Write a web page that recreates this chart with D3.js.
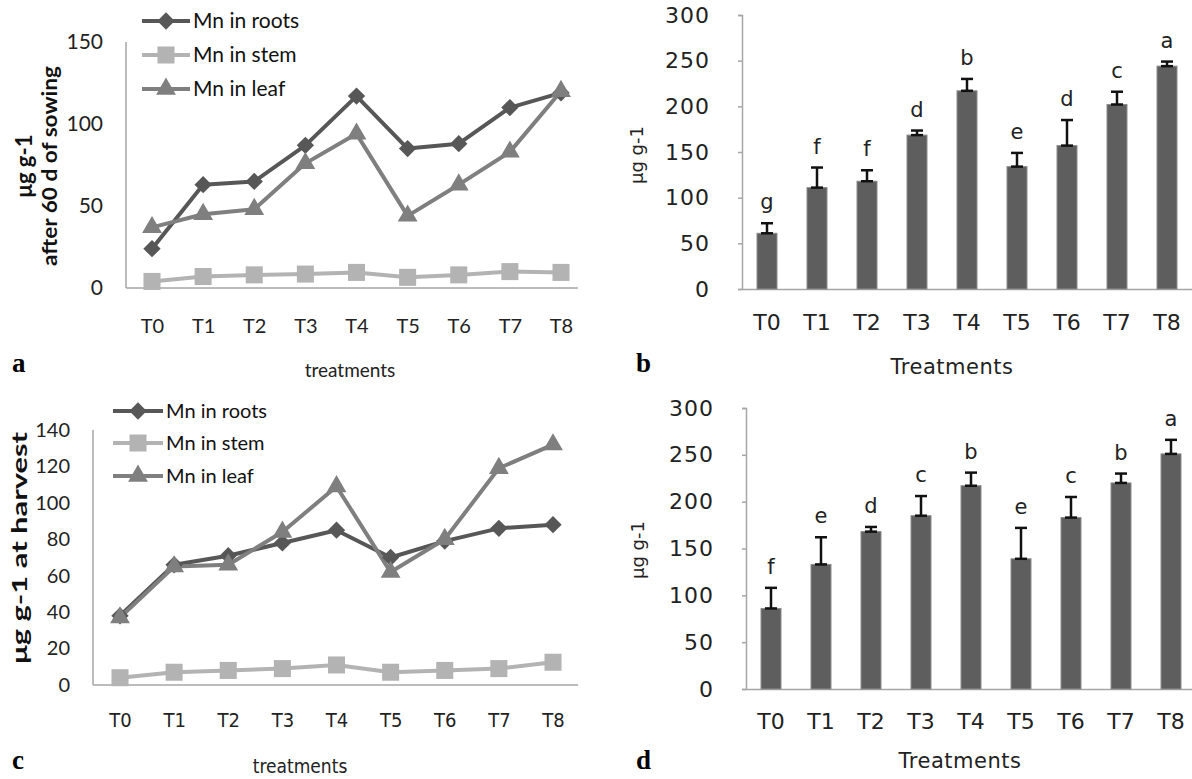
<!DOCTYPE html>
<html>
<head>
<meta charset="utf-8">
<script src="https://cdn.jsdelivr.net/npm/d3@7"></script>
<style>
  html, body { margin: 0; padding: 0; background: #fff; }
  svg { display: block; }
</style>
</head>
<body>
<svg id="chart" width="1192" height="779"></svg>
<script>
// ---------------- DATA ----------------
const treatments = ["T0", "T1", "T2", "T3", "T4", "T5", "T6", "T7", "T8"];
const seriesNames = ["Mn in roots", "Mn in stem", "Mn in leaf"];

// Panel a: after 60 d of sowing
const rootsA = [24, 63, 65, 87, 117, 85, 88, 110, 119];
const stemA  = [4, 7, 8, 8.5, 9.5, 6.5, 8, 10, 9.5];
const leafA  = [37, 45, 48, 76, 94, 44, 63, 83, 120];
const yTicksA = [0, 50, 100, 150];

// Panel c: at harvest
const rootsC = [38, 66, 71, 78, 85, 70, 79, 86, 88];
const stemC  = [4, 7, 8, 9, 11, 7, 8, 9, 12.5];
const leafC  = [37, 65, 66, 84, 109, 62, 80, 119, 132];
const yTicksC = [0, 20, 40, 60, 80, 100, 120, 140];

// Panel b: bars with error bars and letters
const meansB = [61, 111, 118, 168.5, 217, 134, 157, 202, 244];
const errB   = [11, 22, 12, 5, 13, 15, 28, 14, 5];
const lettersB = ["g", "f", "f", "d", "b", "e", "d", "c", "a"];

// Panel d
const meansD = [86, 133, 168, 185, 217, 139, 183, 220, 251];
const errD   = [22, 29, 5, 21, 14, 33, 22, 10, 15];
const lettersD = ["f", "e", "d", "c", "b", "e", "c", "b", "a"];

const yTicksBar = [0, 50, 100, 150, 200, 250, 300];

// ---------------- STYLE ----------------
const colors = ["#575757", "#b3b3b3", "#7f7f7f"];
const lineFont = "Lato, 'Open Sans', sans-serif";
const barFont = "'DejaVu Sans', Verdana, sans-serif";
const narrowFont = "'Liberation Sans Narrow', 'DejaVu Sans Condensed', Lato, sans-serif";
const axisGrey = "#a6a6a6";

const svg = d3.select("#chart");

function marker(i) {
  if (i === 0) return d3.symbol(d3.symbolSquare, 150)();
  if (i === 1) return d3.symbol(d3.symbolSquare, 290)();
  return d3.symbol(d3.symbolTriangle, 170)();
}
function markerTransform(i, x, y) {
  return i === 0 ? `translate(${x},${y}) rotate(45)` : `translate(${x},${y})`;
}

// ---------------- LINE PANELS ----------------
function linePanel(cfg) {
  const g = svg.append("g");
  const x = d3.scalePoint().domain(treatments).range(cfg.pointRange);
  const y = d3.scaleLinear().domain([0, cfg.yMax]).range([cfg.yBase, cfg.yTop]);

  g.append("line").attr("x1", cfg.axisX).attr("x2", cfg.axisX)
    .attr("y1", y(cfg.yMax)).attr("y2", y(0))
    .attr("stroke", axisGrey).attr("stroke-width", 1.5);
  g.append("line").attr("x1", cfg.axisX).attr("x2", cfg.xRight)
    .attr("y1", y(0)).attr("y2", y(0))
    .attr("stroke", axisGrey).attr("stroke-width", 1.5);

  const ya = g.append("g").attr("transform", `translate(${cfg.axisX},0)`)
    .call(d3.axisLeft(y).tickValues(cfg.yTicks).tickSize(0).tickPadding(cfg.yPad));
  ya.select(".domain").remove();
  ya.selectAll("text").attr("font-family", lineFont).attr("font-size", cfg.yFont)
    .attr("fill", "#222");

  const xa = g.append("g").attr("transform", `translate(0,${y(0)})`)
    .call(d3.axisBottom(x).tickSize(0).tickPadding(cfg.xPad));
  xa.select(".domain").remove();
  xa.selectAll("text").attr("font-family", cfg.xFontFamily).attr("font-size", cfg.xFont)
    .attr("fill", "#222");

  const data = cfg.series;
  const line = d3.line().x((d, i) => x(treatments[i])).y(d => y(d));
  data.forEach((vals, si) => {
    g.append("path").attr("d", line(vals)).attr("fill", "none")
      .attr("stroke", colors[si]).attr("stroke-width", 4).attr("stroke-linejoin", "round");
  });
  data.forEach((vals, si) => {
    g.selectAll(null).data(vals).enter().append("path")
      .attr("d", marker(si))
      .attr("transform", (d, i) => markerTransform(si, x(treatments[i]), y(d)))
      .attr("fill", colors[si]);
  });

  seriesNames.forEach((name, si) => {
    const ly = cfg.legendY[si];
    g.append("line").attr("x1", cfg.legendX[0]).attr("x2", cfg.legendX[1])
      .attr("y1", ly).attr("y2", ly).attr("stroke", colors[si]).attr("stroke-width", 4);
    g.append("path").attr("d", marker(si))
      .attr("transform", markerTransform(si, (cfg.legendX[0] + cfg.legendX[1]) / 2, ly))
      .attr("fill", colors[si]);
    g.append("text").attr("x", cfg.legendX[1] + 3).attr("y", ly).attr("dy", "0.35em")
      .attr("font-family", lineFont).attr("font-size", cfg.legendFont).attr("fill", "#111")
      .text(name);
  });

  cfg.yTitle.forEach(t => {
    const tx = g.append("text").attr("transform", `translate(${t.x},${t.y}) rotate(-90)`)
      .attr("text-anchor", "middle").attr("font-family", lineFont)
      .attr("font-size", t.size).attr("font-weight", t.weight || "bold").attr("fill", "#111")
      .text(t.text);
    if (t.len) tx.attr("textLength", t.len).attr("lengthAdjust", "spacingAndGlyphs");
  });

  g.append("text").attr("x", cfg.xTitle.x).attr("y", cfg.xTitle.y)
    .attr("text-anchor", "middle").attr("font-family", cfg.xFontFamily)
    .attr("font-size", cfg.xTitle.size).attr("fill", "#222").text("treatments");

  g.append("text").attr("x", cfg.letter.x).attr("y", cfg.letter.y)
    .attr("font-family", "'Liberation Serif', 'Times New Roman', serif")
    .attr("font-weight", "bold").attr("font-size", 27).attr("fill", "#000")
    .text(cfg.letter.t);
}

linePanel({
  series: [rootsA, stemA, leafA],
  axisX: 126, xRight: 578, pointRange: [152, 561],
  yTop: 42, yBase: 288, yMax: 150, yTicks: yTicksA, yPad: 23, yFont: 21,
  xPad: 31, xFont: 20, xFontFamily: lineFont,
  legendX: [142, 190], legendY: [21, 55, 89], legendFont: 21,
  yTitle: [
    { text: "μg g-1", x: 32, y: 166, size: 22 },
    { text: "after 60 d of sowing", x: 57, y: 166, size: 21, len: 200 }
  ],
  xTitle: { x: 350, y: 377, size: 19 },
  letter: { x: 12, y: 372, t: "a" }
});

linePanel({
  series: [rootsC, stemC, leafC],
  axisX: 93, xRight: 578, pointRange: [120, 553],
  yTop: 430, yBase: 685, yMax: 140, yTicks: yTicksC, yPad: 23, yFont: 20,
  xPad: 28, xFont: 20, xFontFamily: narrowFont,
  legendX: [113, 163], legendY: [411, 443, 476], legendFont: 20,
  yTitle: [
    { text: "μg g-1 at harvest", x: 27, y: 548, size: 21, len: 232 }
  ],
  xTitle: { x: 300, y: 773, size: 19 },
  letter: { x: 12, y: 769, t: "c" }
});

// ---------------- BAR PANELS ----------------
function barPanel(cfg) {
  const g = svg.append("g");
  const x = d3.scaleBand().domain(treatments).range(cfg.xRange)
    .paddingInner(0.6).paddingOuter(0.3);
  const y = d3.scaleLinear().domain([0, 300]).range([cfg.yBase, cfg.yTop]);

  const ya = g.append("g").attr("transform", `translate(${cfg.xRange[0]},0)`)
    .call(d3.axisLeft(y).tickValues(yTicksBar).tickSize(4).tickPadding(28));
  ya.select(".domain").attr("stroke", axisGrey).attr("stroke-width", 1.5);
  ya.selectAll(".tick line").attr("stroke", axisGrey).attr("stroke-width", 1.5);
  ya.selectAll("text").attr("font-family", barFont).attr("font-size", 22)
    .attr("letter-spacing", 1).attr("fill", "#222");

  const xa = g.append("g").attr("transform", `translate(0,${cfg.yBase})`)
    .call(d3.axisBottom(x).tickSize(0).tickPadding(cfg.xPad));
  xa.select(".domain").attr("stroke", axisGrey).attr("stroke-width", 1.5);
  xa.selectAll("text").attr("font-family", barFont).attr("font-size", 22).attr("fill", "#222");

  const data = cfg.means.map((m, i) => ({ t: treatments[i], m, e: cfg.err[i], l: cfg.letters[i] }));

  g.selectAll(null).data(data).enter().append("rect")
    .attr("x", d => x(d.t)).attr("width", x.bandwidth())
    .attr("y", d => y(d.m)).attr("height", d => y(0) - y(d.m))
    .attr("fill", "#5e5e5e").attr("stroke", "#8c8c8c").attr("stroke-width", 1);

  const cx = d => x(d.t) + x.bandwidth() / 2;
  g.selectAll(null).data(data).enter().append("line")
    .attr("x1", cx).attr("x2", cx).attr("y1", d => y(d.m)).attr("y2", d => y(d.m + d.e))
    .attr("stroke", "#111").attr("stroke-width", 2.5);
  g.selectAll(null).data(data).enter().append("line")
    .attr("x1", d => cx(d) - 6).attr("x2", d => cx(d) + 6)
    .attr("y1", d => y(d.m + d.e)).attr("y2", d => y(d.m + d.e))
    .attr("stroke", "#111").attr("stroke-width", 2.5);
  g.selectAll(null).data(data).enter().append("line")
    .attr("x1", d => cx(d) - 6).attr("x2", d => cx(d) + 6)
    .attr("y1", d => y(d.m)).attr("y2", d => y(d.m))
    .attr("stroke", "#111").attr("stroke-width", 2.5);

  g.selectAll(null).data(data).enter().append("text")
    .attr("x", cx).attr("y", d => y(d.m + d.e) - 14)
    .attr("text-anchor", "middle").attr("font-family", barFont).attr("font-size", 21)
    .attr("fill", "#222").text(d => d.l);

  g.append("text").attr("transform", `translate(${cfg.yTitle.x},${cfg.yTitle.y}) rotate(-90)`)
    .attr("text-anchor", "middle").attr("font-family", barFont).attr("font-size", 18)
    .attr("fill", "#222").text("μg g-1");

  g.append("text").attr("x", cfg.xTitle.x).attr("y", cfg.xTitle.y)
    .attr("text-anchor", "middle").attr("font-family", barFont).attr("font-size", 21)
    .attr("letter-spacing", 0.5).attr("fill", "#222").text("Treatments");

  g.append("text").attr("x", cfg.letter.x).attr("y", cfg.letter.y)
    .attr("font-family", "'Liberation Serif', 'Times New Roman', serif")
    .attr("font-weight", "bold").attr("font-size", 27).attr("fill", "#000")
    .text(cfg.letter.t);
}

barPanel({
  means: meansB, err: errB, letters: lettersB,
  xRange: [742, 1192], yTop: 15, yBase: 289, xPad: 25,
  yTitle: { x: 643, y: 155 },
  xTitle: { x: 952, y: 374 },
  letter: { x: 636, y: 372, t: "b" }
});

barPanel({
  means: meansD, err: errD, letters: lettersD,
  xRange: [746, 1196], yTop: 408, yBase: 689, xPad: 24,
  yTitle: { x: 644, y: 550 },
  xTitle: { x: 960, y: 768 },
  letter: { x: 636, y: 769, t: "d" }
});
</script>
</body>
</html>
